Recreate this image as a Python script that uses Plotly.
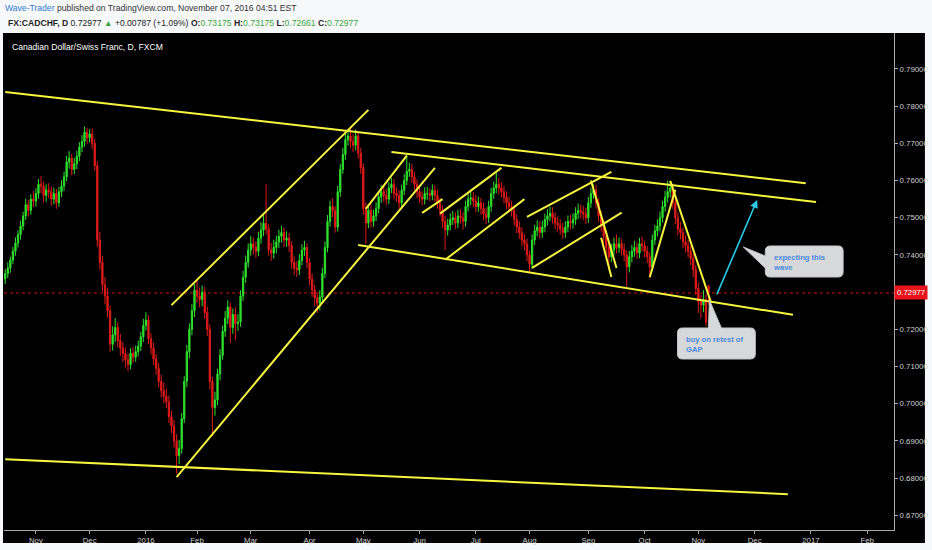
import pandas as pd
import plotly.graph_objects as go

# plot area of the 932x550 shot, in pixels
PL, PR, PT, PB = 4, 896, 33, 530

first_day = "2015-10-15"
holidays = ["2015-12-25", "2016-01-01"]   # no FXCM bars on these
first_open = 0.7335
last_open = 0.73175                       # Monday 7 Nov gapped up
last_price = 0.72977

# CADCHF daily bars (FXCM): closes, highs, lows
close = [
    0.7350, 0.7365, 0.7386, 0.7410, 0.7432, 0.7455, 0.7478, 0.7505, 0.7535, 0.7520,
    0.7550, 0.7545, 0.7565, 0.7590, 0.7585, 0.7560, 0.7575, 0.7570, 0.7550, 0.7565,
    0.7540, 0.7570, 0.7585, 0.7610, 0.7650, 0.7660, 0.7630, 0.7645, 0.7665, 0.7690,
    0.7705, 0.7730, 0.7715, 0.7725, 0.7700, 0.7640, 0.7440, 0.7380, 0.7320, 0.7290,
    0.7250, 0.7160, 0.7185, 0.7205, 0.7170, 0.7150, 0.7135, 0.7118, 0.7105, 0.7136,
    0.7125, 0.7140, 0.7155, 0.7180, 0.7210, 0.7225, 0.7175, 0.7150, 0.7120, 0.7095,
    0.7060, 0.7035, 0.7020, 0.7005, 0.6965, 0.6940, 0.6900, 0.6860, 0.6880, 0.6960,
    0.7060, 0.7140, 0.7200, 0.7250, 0.7305, 0.7290, 0.7280, 0.7300, 0.7245, 0.7200,
    0.7060, 0.6990, 0.7010, 0.7080, 0.7130, 0.7195, 0.7230, 0.7260, 0.7205, 0.7240,
    0.7215, 0.7220, 0.7290, 0.7340, 0.7380, 0.7413, 0.7430, 0.7420, 0.7410, 0.7445,
    0.7467, 0.7485, 0.7470, 0.7413, 0.7405, 0.7420, 0.7435, 0.7450, 0.7460, 0.7440,
    0.7445, 0.7425, 0.7380, 0.7365, 0.7360, 0.7385, 0.7413, 0.7420, 0.7380, 0.7335,
    0.7306, 0.7285, 0.7270, 0.7287, 0.7350, 0.7420, 0.7490, 0.7530, 0.7520, 0.7475,
    0.7570, 0.7630, 0.7670, 0.7710, 0.7720, 0.7705, 0.7695, 0.7720, 0.7674, 0.7635,
    0.7525, 0.7486, 0.7520, 0.7490, 0.7505, 0.7525, 0.7556, 0.7570, 0.7560, 0.7550,
    0.7580, 0.7590, 0.7565, 0.7560, 0.7540, 0.7574, 0.7600, 0.7625, 0.7630, 0.7610,
    0.7590, 0.7570, 0.7556, 0.7550, 0.7565, 0.7565, 0.7560, 0.7574, 0.7560, 0.7540,
    0.7520, 0.7490, 0.7467, 0.7480, 0.7495, 0.7500, 0.7486, 0.7505, 0.7500, 0.7490,
    0.7530, 0.7550, 0.7553, 0.7545, 0.7530, 0.7540, 0.7525, 0.7510, 0.7500, 0.7530,
    0.7565, 0.7580, 0.7590, 0.7580, 0.7570, 0.7555, 0.7540, 0.7530, 0.7520, 0.7495,
    0.7475, 0.7460, 0.7440, 0.7430, 0.7400, 0.7375, 0.7440, 0.7465, 0.7475, 0.7460,
    0.7475, 0.7495, 0.7505, 0.7512, 0.7500, 0.7486, 0.7480, 0.7470, 0.7460, 0.7475,
    0.7490, 0.7486, 0.7495, 0.7512, 0.7520, 0.7515, 0.7510, 0.7500, 0.7540, 0.7565,
    0.7574, 0.7540, 0.7505, 0.7480, 0.7450, 0.7420, 0.7395, 0.7413, 0.7430,
    0.7420, 0.7430, 0.7415, 0.7400, 0.7368, 0.7395, 0.7410, 0.7420, 0.7405, 0.7430,
    0.7425, 0.7410, 0.7395, 0.7368, 0.7440, 0.7465, 0.7478, 0.7500, 0.7530, 0.7555,
    0.7570, 0.7580, 0.7540, 0.7500, 0.7470, 0.7460, 0.7435, 0.7425, 0.7410, 0.7390,
    0.7360, 0.7310, 0.7275, 0.7265, 0.7280, 0.7219, 0.72977,
]
high = [
    0.7362, 0.7380, 0.7395, 0.7421, 0.7447, 0.7466, 0.7492, 0.7516, 0.7551, 0.7548,
    0.7563, 0.7572, 0.7579, 0.7604, 0.7612, 0.7597, 0.7590, 0.7593, 0.7584, 0.7581,
    0.7578, 0.7583, 0.7601, 0.7624, 0.7666, 0.7679, 0.7672, 0.7661, 0.7680, 0.7703,
    0.7722, 0.7745, 0.7742, 0.7738, 0.7740, 0.7711, 0.7652, 0.7462, 0.7398, 0.7341,
    0.7312, 0.7264, 0.7208, 0.7230, 0.7219, 0.7188, 0.7166, 0.7151, 0.7134, 0.7149,
    0.7152, 0.7156, 0.7170, 0.7194, 0.7228, 0.7246, 0.7238, 0.7189, 0.7165, 0.7133,
    0.7110, 0.7078, 0.7057, 0.7041, 0.7022, 0.6982, 0.6957, 0.6918, 0.6903, 0.6975,
    0.7074, 0.7158, 0.7216, 0.7268, 0.7322, 0.7331, 0.7312, 0.7318, 0.7314, 0.7261,
    0.7213, 0.7073, 0.7032, 0.7094, 0.7147, 0.7210, 0.7249, 0.7278, 0.7272, 0.7256,
    0.7259, 0.7241, 0.7305, 0.7357, 0.7398, 0.7431, 0.7451, 0.7447, 0.7436, 0.7462,
    0.7488, 0.7507, 0.7590, 0.7482, 0.7432, 0.7441, 0.7452, 0.7468, 0.7479, 0.7474,
    0.7463, 0.7459, 0.7437, 0.7396, 0.7383, 0.7402, 0.7429, 0.7438, 0.7431, 0.7392,
    0.7350, 0.7320, 0.7296, 0.7305, 0.7366, 0.7436, 0.7507, 0.7546, 0.7552, 0.7531,
    0.7586, 0.7645, 0.7688, 0.7728, 0.7736, 0.7744, 0.7724, 0.7737, 0.7731, 0.7688,
    0.7646, 0.7541, 0.7537, 0.7534, 0.7522, 0.7541, 0.7572, 0.7588, 0.7586, 0.7577,
    0.7595, 0.7607, 0.7604, 0.7582, 0.7574, 0.7589, 0.7617, 0.7670, 0.7648, 0.7645,
    0.7624, 0.7603, 0.7586, 0.7571, 0.7582, 0.7583, 0.7579, 0.7590, 0.7588, 0.7575,
    0.7554, 0.7533, 0.7505, 0.7497, 0.7512, 0.7518, 0.7514, 0.7521, 0.7523, 0.7516,
    0.7546, 0.7567, 0.7571, 0.7569, 0.7561, 0.7557, 0.7553, 0.7541, 0.7526, 0.7546,
    0.7581, 0.7597, 0.7620, 0.7607, 0.7596, 0.7586, 0.7571, 0.7557, 0.7546, 0.7534,
    0.7509, 0.7491, 0.7474, 0.7456, 0.7443, 0.7412, 0.7455, 0.7481, 0.7493, 0.7491,
    0.7492, 0.7511, 0.7523, 0.7530, 0.7528, 0.7515, 0.7503, 0.7496, 0.7487, 0.7491,
    0.7506, 0.7508, 0.7512, 0.7528, 0.7538, 0.7536, 0.7532, 0.7527, 0.7556, 0.7581,
    0.7590, 0.7588, 0.7553, 0.7519, 0.7494, 0.7463, 0.7434, 0.7430, 0.7447,
    0.7455, 0.7447, 0.7444, 0.7431, 0.7412, 0.7411, 0.7427, 0.7438, 0.7434, 0.7446,
    0.7449, 0.7439, 0.7424, 0.7407, 0.7455, 0.7481, 0.7496, 0.7517, 0.7546, 0.7572,
    0.7600, 0.7598, 0.7592, 0.7553, 0.7514, 0.7489, 0.7474, 0.7452, 0.7441, 0.7424,
    0.7403, 0.7373, 0.7326, 0.7293, 0.7306, 0.7294, 0.73175,
]
low = [
    0.7322, 0.7338, 0.7352, 0.7375, 0.7398, 0.7420, 0.7441, 0.7466, 0.7494, 0.7503,
    0.7508, 0.7528, 0.7530, 0.7551, 0.7566, 0.7541, 0.7543, 0.7552, 0.7532, 0.7536,
    0.7524, 0.7529, 0.7556, 0.7572, 0.7598, 0.7632, 0.7614, 0.7617, 0.7631, 0.7652,
    0.7676, 0.7691, 0.7698, 0.7702, 0.7684, 0.7626, 0.7421, 0.7361, 0.7302, 0.7268,
    0.7231, 0.7140, 0.7143, 0.7166, 0.7152, 0.7129, 0.7112, 0.7097, 0.7088, 0.7093,
    0.7110, 0.7113, 0.7128, 0.7142, 0.7166, 0.7197, 0.7160, 0.7132, 0.7104, 0.7078,
    0.7044, 0.7016, 0.7001, 0.6988, 0.6948, 0.6921, 0.6882, 0.6812, 0.6838, 0.6866,
    0.6948, 0.7045, 0.7122, 0.7184, 0.7233, 0.7271, 0.7259, 0.7262, 0.7228, 0.7182,
    0.7038, 0.6912, 0.6968, 0.6996, 0.7063, 0.7118, 0.7180, 0.7214, 0.7163, 0.7188,
    0.7170, 0.7196, 0.7207, 0.7276, 0.7325, 0.7366, 0.7398, 0.7401, 0.7392, 0.7397,
    0.7430, 0.7451, 0.7455, 0.7398, 0.7384, 0.7390, 0.7404, 0.7419, 0.7433, 0.7421,
    0.7422, 0.7408, 0.7362, 0.7347, 0.7341, 0.7346, 0.7372, 0.7397, 0.7364, 0.7318,
    0.7287, 0.7262, 0.7244, 0.7251, 0.7275, 0.7338, 0.7407, 0.7476, 0.7501, 0.7460,
    0.7463, 0.7556, 0.7618, 0.7655, 0.7694, 0.7688, 0.7676, 0.7681, 0.7659, 0.7618,
    0.7508, 0.7430, 0.7472, 0.7473, 0.7476, 0.7491, 0.7512, 0.7540, 0.7543, 0.7534,
    0.7537, 0.7566, 0.7549, 0.7543, 0.7523, 0.7527, 0.7561, 0.7588, 0.7610, 0.7594,
    0.7574, 0.7553, 0.7540, 0.7533, 0.7536, 0.7548, 0.7544, 0.7547, 0.7543, 0.7524,
    0.7503, 0.7472, 0.7413, 0.7452, 0.7466, 0.7481, 0.7470, 0.7472, 0.7484, 0.7468,
    0.7476, 0.7517, 0.7534, 0.7529, 0.7514, 0.7516, 0.7508, 0.7494, 0.7483, 0.7486,
    0.7516, 0.7551, 0.7566, 0.7563, 0.7554, 0.7539, 0.7523, 0.7514, 0.7503, 0.7479,
    0.7458, 0.7443, 0.7423, 0.7412, 0.7383, 0.7354, 0.7362, 0.7427, 0.7450, 0.7444,
    0.7446, 0.7461, 0.7480, 0.7490, 0.7484, 0.7469, 0.7463, 0.7454, 0.7443, 0.7446,
    0.7461, 0.7469, 0.7471, 0.7481, 0.7497, 0.7499, 0.7494, 0.7483, 0.7486, 0.7527,
    0.7551, 0.7524, 0.7489, 0.7463, 0.7432, 0.7401, 0.7360, 0.7381, 0.7399,
    0.7404, 0.7406, 0.7398, 0.7383, 0.7314, 0.7353, 0.7380, 0.7395, 0.7389, 0.7391,
    0.7409, 0.7393, 0.7378, 0.7340, 0.7356, 0.7427, 0.7450, 0.7463, 0.7487, 0.7516,
    0.7541, 0.7554, 0.7524, 0.7483, 0.7452, 0.7442, 0.7419, 0.7407, 0.7393, 0.7372,
    0.7341, 0.7292, 0.7244, 0.7231, 0.7246, 0.7208, 0.72661,
]

tick_months = ["2015-11", "2015-12", "2016-01", "2016-02", "2016-03", "2016-04",
               "2016-05", "2016-06", "2016-07", "2016-08", "2016-09", "2016-10",
               "2016-11", "2016-12", "2017-01", "2017-02"]
tick_text = ["Nov", "Dec", "2016", "Feb", "Mar", "Apr", "May", "Jun", "Jul",
             "Aug", "Sep", "Oct", "Nov", "Dec", "2017", "Feb"]
price_ticks = [0.67, 0.68, 0.69, 0.70, 0.71, 0.72, 0.74, 0.75, 0.76, 0.77, 0.78, 0.79]

# hand drawn trend lines: (bar index, price) -> (bar index, price)
trend_lines = [
    (0, 0.7838, 313, 0.7593),
    (151, 0.7677, 317, 0.7542),
    (138, 0.7427, 308, 0.7239),
    (0, 0.6851, 306, 0.6757),
    (65, 0.7265, 142, 0.7790),
    (67, 0.6803, 168, 0.7634),
    (141, 0.7524, 157, 0.7667),
    (163, 0.7513, 171, 0.7550),
    (170, 0.7511, 194, 0.7634),
    (172, 0.7387, 203, 0.7550),
    (204, 0.7502, 237, 0.7623),
    (206, 0.7365, 241, 0.7514),
    (229, 0.7600, 239, 0.7365),
    (233, 0.7446, 237, 0.7341),
    (252, 0.7340, 262, 0.7575),
    (260, 0.7599, 276, 0.7271),
]
wave_arrow = (278, 0.7290, 294, 0.7548)

UP, DOWN = "#2fe02f", "#e01b1b"
YELLOW, CYAN = "#f7f53f", "#29c9e8"
FONT = "Liberation Sans, Arial, sans-serif"

bars = pd.bdate_range(first_day, "2017-03-31")
bars = bars[~bars.isin(pd.to_datetime(holidays))]
day = [d.strftime("%Y-%m-%d") for d in bars]
dates = day[:len(close)]
opens = [first_open] + close[:-1]
opens[-1] = last_open


def fx(px):
    return (px - PL) / (PR - PL)


def fy(py):
    return (PB - py) / (PB - PT)


def path(points):
    out = []
    for cmd, pts in points:
        out.append(cmd + " ".join(f"{fx(x):.5f},{fy(y):.5f}" for x, y in pts))
    return " ".join(out) + " Z"


fig = go.Figure()
fig.add_trace(go.Candlestick(
    x=dates, open=opens, high=high, low=low, close=close,
    increasing=dict(line=dict(color=UP, width=1), fillcolor=UP),
    decreasing=dict(line=dict(color=DOWN, width=1), fillcolor=DOWN),
    whiskerwidth=0, showlegend=False, hoverinfo="skip",
))

# black chart panel behind everything
fig.add_shape(type="rect", xref="paper", yref="paper", layer="below",
              x0=fx(3), x1=fx(927), y0=fy(543), y1=fy(33),
              fillcolor="#000000", line=dict(width=0))
fig.add_shape(type="line", xref="paper", yref="y", layer="below",
              x0=0, x1=1, y0=last_price, y1=last_price,
              line=dict(color="#d01010", width=1, dash="dot"))

for i0, p0, i1, p1 in trend_lines:
    fig.add_shape(type="line", x0=day[i0], y0=p0, x1=day[i1], y1=p1,
                  line=dict(color=YELLOW, width=2))

# callout bubbles
r = 5
x0, y0, x1, y1 = 767, 246, 845, 277
fig.add_shape(type="path", xref="paper", yref="paper",
              path=path([("M", [(x0 + r, y0)]), ("L", [(x1 - r, y0)]),
                         ("Q", [(x1, y0), (x1, y0 + r)]), ("L", [(x1, y1 - r)]),
                         ("Q", [(x1, y1), (x1 - r, y1)]), ("L", [(x0 + r, y1)]),
                         ("Q", [(x0, y1), (x0, y1 - r)]), ("L", [(x0, 268)]),
                         ("L", [(745, 247)]), ("L", [(x0, 256)]),
                         ("L", [(x0, y0 + r)]), ("Q", [(x0, y0), (x0 + r, y0)])]),
              fillcolor="#d6d8da", line=dict(color="#c4c6c8", width=1))
x0, y0, x1, y1 = 679, 328, 757, 359
fig.add_shape(type="path", xref="paper", yref="paper",
              path=path([("M", [(x0 + r, y0)]), ("L", [(710, y0)]),
                         ("L", [(711, 300)]), ("L", [(723, y0)]),
                         ("L", [(x1 - r, y0)]),
                         ("Q", [(x1, y0), (x1, y0 + r)]), ("L", [(x1, y1 - r)]),
                         ("Q", [(x1, y1), (x1 - r, y1)]), ("L", [(x0 + r, y1)]),
                         ("Q", [(x0, y1), (x0, y1 - r)]), ("L", [(x0, y0 + r)]),
                         ("Q", [(x0, y0), (x0 + r, y0)])]),
              fillcolor="#d6d8da", line=dict(color="#c4c6c8", width=1))

notes = [(773, 262, "expecting this<br>wave"), (686, 344, "buy on retest of<br>GAP")]
for x, y, t in notes:
    fig.add_annotation(xref="paper", yref="paper", x=fx(x), y=fy(y), text=f"<b>{t}</b>",
                       showarrow=False, xanchor="left", yanchor="middle", align="left",
                       font=dict(family=FONT, size=7.6, color="#4a8ae0"))

t0, p0, t1, p1 = wave_arrow
fig.add_annotation(x=day[t1], y=p1, ax=day[t0], ay=p0, axref="x", ayref="y",
                   text="", showarrow=True, arrowhead=2, arrowsize=1,
                   arrowwidth=1.6, arrowcolor=CYAN)

# header
green = "#3aa63a"
fig.add_annotation(xref="paper", yref="paper", x=fx(3), y=fy(8), xanchor="left",
                   yanchor="middle", showarrow=False,
                   text="<span style='color:#2f7dd1'>Wave-Trader</span> published on "
                        "TradingView.com, November 07, 2016 04:51 EST",
                   font=dict(family=FONT, size=8.6, color="#333333"))
fig.add_annotation(xref="paper", yref="paper", x=fx(6), y=fy(23), xanchor="left",
                   yanchor="middle", showarrow=False,
                   text=f"<b>FX:CADCHF, D</b> 0.72977 <span style='color:{green}'>▲</span>"
                        f" +0.00787 (+1.09%) <b>O:</b><span style='color:{green}'>0.73175</span>"
                        f" <b>H:</b><span style='color:{green}'>0.73175</span>"
                        f" <b>L:</b><span style='color:{green}'>0.72661</span>"
                        f" <b>C:</b><span style='color:{green}'>0.72977</span>",
                   font=dict(family=FONT, size=8.6, color="#222222"))
fig.add_annotation(xref="paper", yref="paper", x=fx(10), y=fy(47), xanchor="left",
                   yanchor="middle", showarrow=False,
                   text="Canadian Dollar/Swiss Franc, D, FXCM",
                   font=dict(family=FONT, size=8.6, color="#ffffff"))

# last price tag on the axis
fig.add_annotation(xref="paper", yref="y", x=1, y=last_price, xanchor="left",
                   yanchor="middle", showarrow=False, text="0.72977",
                   bgcolor="#e8141a", borderpad=2,
                   font=dict(family=FONT, size=7.8, color="#ffffff"))

tickvals = []
for m in tick_months:
    tickvals.append(next(d for d in day if d >= m + "-01"))

x_range = [(bars[0] - pd.Timedelta(hours=11.5)).strftime("%Y-%m-%d %H:%M"),
           (bars[347] + pd.Timedelta(hours=12)).strftime("%Y-%m-%d %H:%M")]

fig.update_layout(
    width=932, height=550,
    margin=dict(l=PL, r=932 - PR, t=PT, b=550 - PB),
    paper_bgcolor="#f7f8fa", plot_bgcolor="#000000",
    hovermode=False, showlegend=False,
    xaxis=dict(type="date", range=x_range, rangeslider=dict(visible=False),
               rangebreaks=[dict(bounds=["sat", "mon"]), dict(values=holidays)],
               tickmode="array", tickvals=tickvals, ticktext=tick_text,
               showgrid=False, zeroline=False, showline=True, linecolor="#a8a8a8",
               ticks="outside", ticklen=3, tickcolor="#a8a8a8",
               tickfont=dict(family=FONT, size=7.8, color="#d0d0d0"), fixedrange=True),
    yaxis=dict(side="right", range=[0.66606, 0.79966],
               tickmode="array", tickvals=price_ticks,
               ticktext=[f"{v:.5f}" for v in price_ticks],
               showgrid=False, zeroline=False, showline=True, linecolor="#a8a8a8",
               ticks="outside", ticklen=3, tickcolor="#a8a8a8",
               tickfont=dict(family=FONT, size=7.8, color="#d0d0d0"), fixedrange=True),
)

fig.write_html("out.html", config={"displayModeBar": False},
               post_script="document.body.style.margin='0';")
